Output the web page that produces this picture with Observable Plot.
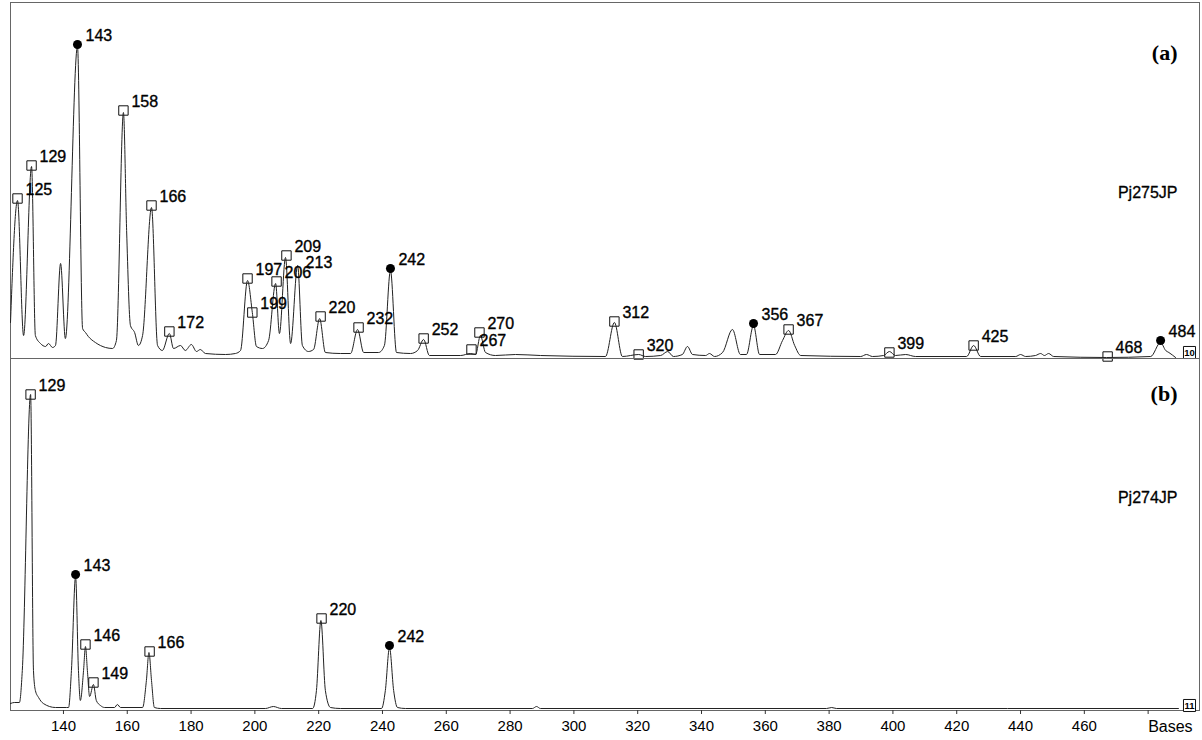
<!DOCTYPE html>
<html><head><meta charset="utf-8">
<script src="https://cdn.jsdelivr.net/npm/d3@7"></script>
<script src="https://cdn.jsdelivr.net/npm/@observablehq/plot@0.6"></script>
<style>
html,body{margin:0;padding:0;background:#fff;}
#chart svg{display:block;}
</style></head><body><div id="chart"></div>
<script>
// ---- base-size axis ----
const xRange = [123.4, 496.1];
const tickValues = [140,160,180,200,220,240,260,280,300,320,340,360,380,400,420,440,460];
const unitTick = [480];
const unitLabel = "Bases";

// ---- panel (a) Pj275JP trace: [bases, signal] ----
const traceA = [[123.4,36],[125.6,158],[127.5,23],[130.0,192],[131.2,23],[132.8,15],[134.4,12],[135.3,15],[136.6,11],[137.5,13],[139.1,95],[140.6,20],[144.4,312],[146.0,30],[146.9,26],[147.8,22],[150.0,16],[153.2,11],[155.4,10],[156.6,18],[158.8,246],[159.8,128],[161.0,33],[162.3,26],[163.5,13],[164.8,23],[167.6,151],[169.5,13],[171.0,8],[173.2,25],[174.5,10],[176.7,13],[178.2,8],[180.1,14],[181.7,7],[182.9,9],[184.5,5],[190.8,4],[193.9,5],[195.5,8],[197.7,78],[199.2,46],[200.5,12],[202.4,10],[204.3,18],[206.5,75],[207.7,25],[209.6,101],[211.2,15],[213.4,93],[214.9,13],[216.8,7],[218.4,9],[220.3,40],[222.1,6],[226.8,5],[230.0,5],[232.2,29],[234.1,6],[238.8,6],[240.6,13],[242.5,88],[244.4,6],[248.8,5],[251.0,8],[252.9,19],[254.7,3],[264.5,3],[267.6,5],[269.2,4],[270.7,23],[272.3,6],[275.4,3],[281.7,4],[289.5,3],[309.9,2],[312.7,36],[315.2,2],[320.3,4],[322.5,2],[327.2,3],[329.4,7],[331.2,2],[334.0,4],[335.6,12],[337.2,4],[341.3,3],[342.5,5],[344.1,2],[346.6,6],[349.7,29],[352.2,4],[354.1,4],[356.3,33],[358.2,4],[363.2,4],[365.4,18],[367.3,28],[369.2,13],[371.1,3],[389.9,2],[391.7,4],[393.6,2],[397.1,3],[398.9,7],[400.8,3],[404.0,4],[407.1,2],[423.1,2],[425.3,13],[427.5,2],[438.5,2],[440.0,4],[441.6,2],[444.7,3],[446.3,5],[447.5,3],[448.8,5],[450.4,2],[467.0,1],[480.8,2],[483.9,16],[485.5,8],[486.5,6],[488.6,1]];

// ---- panel (a) called peaks ----
const sizesA  = [125,129,143,158,166,172,197,199,206,209,213,220,232,242,252,267,270,312,320,356,367,399,425,468,484];
const posA    = [125.6,130.0,144.4,158.8,167.6,173.2,197.7,199.2,206.8,209.9,213.4,220.6,232.5,242.5,252.9,267.9,270.4,312.7,320.3,356.3,367.3,398.9,425.3,467.3,483.9];
const heightA = [160,193,314,248,153,27,80,46,77,103,87,42,31,90,20,9,26,37,4,35,29,6,13,2,18];
const markA   = ["sq","sq","dot","sq","sq","sq","sq","sq","sq","sq","none","sq","sq","dot","sq","sq","sq","sq","sq","dot","sq","sq","sq","sq","dot"];

// ---- panel (b) Pj274JP trace ----
const traceB = [[123.4,7],[124.6,8],[126.2,8],[127.1,40],[129.7,316],[130.6,40],[131.2,20],[132.2,13],[133.7,7],[137.5,3],[141.0,3],[141.6,3],[142.5,40],[143.8,134],[144.7,40],[145.3,10],[146.3,40],[146.9,64],[147.5,40],[148.2,14],[149.4,26],[150.3,10],[151.6,5],[152.9,3],[156.0,3],[156.9,6],[157.9,3],[164.8,3],[166.0,30],[166.8,58],[167.6,30],[168.5,3],[170.4,2],[203.3,2],[205.8,4],[208.3,2],[218.1,2],[219.3,20],[220.7,90],[222.1,20],[223.7,3],[226.8,2],[239.7,2],[240.9,20],[242.2,63],[243.5,20],[244.7,3],[247.2,2],[287.0,2],[288.3,4],[289.5,2],[379.2,2],[380.8,3],[382.3,2],[489.5,2]];

const sizesB  = [129,143,146,149,166,220,242];
const posB    = [129.7,143.8,146.9,149.4,167.0,220.9,242.2];
const heightB = [316,136,66,28,59,92,65];
const markB   = ["sq","dot","sq","sq","sq","sq","dot"];

const panelTags = ["(a)","(b)"];
const sampleNames = ["Pj275JP","Pj274JP"];
const channelIds = ["10","11"];

// ---- build tables ----
const toTrace = t => t.map(([b, s]) => ({b, s}));
const toPeaks = (sizes, pos, h, mk) => sizes.map((size, i) => ({size: String(size), b: pos[i], s: h[i], mark: mk[i]}));

const font = "'Liberation Sans', Arial, Helvetica, sans-serif";
const serif = "'Liberation Serif', 'Times New Roman', serif";

function panel({trace, peaks, tag, name, channel, height, marginBottom, yMax, tagDy, nameDy, chDy, withAxis}) {
  const marks = [
    Plot.frame({stroke: "#666", strokeWidth: 1}),
    Plot.dot(peaks.filter(d => d.mark === "sq"), {x: "b", y: "s", symbol: "square", r: 5.3, fill: "white", stroke: "#111", strokeWidth: 1}),
    Plot.line(trace, {x: "b", y: "s", stroke: "#222", strokeWidth: 1, curve: "monotone-x"}),
    Plot.dot(peaks.filter(d => d.mark === "dot"), {x: "b", y: "s", r: 4.5, fill: "#000", stroke: "none"}),
    Plot.text(peaks, {x: "b", y: "s", text: "size", dx: 8, dy: -9, textAnchor: "start", lineAnchor: "middle", fontSize: 16, fill: "#000", stroke: "#000", strokeWidth: 0.35}),
    Plot.text([tag], {text: d => d, frameAnchor: "top-right", textAnchor: "end", lineAnchor: "middle", dx: -22, dy: tagDy, fontFamily: serif, fontWeight: "bold", fontSize: 22, fill: "#000"}),
    Plot.text([name], {text: d => d, frameAnchor: "top-right", textAnchor: "end", lineAnchor: "middle", dx: -22, dy: nameDy, fontSize: 16, fill: "#000", stroke: "#000", strokeWidth: 0.3}),
    Plot.dot([channel], {frameAnchor: "bottom-right", dx: -10, dy: chDy, symbol: "square", r: 6.8, fill: "white", stroke: "#111", strokeWidth: 1}),
    Plot.text([channel], {text: d => d, frameAnchor: "bottom-right", textAnchor: "middle", lineAnchor: "middle", dx: -10, dy: chDy, fontSize: 9.5, fontWeight: "bold", fill: "#000"})
  ];
  if (withAxis) {
    marks.push(
      Plot.axisX({ticks: tickValues, tickSize: 4, tickPadding: 6, tickFormat: d => String(d), fontSize: 15, label: null, stroke: "#333"}),
      Plot.axisX({ticks: unitTick, tickSize: 4, tickPadding: 6, tickFormat: () => unitLabel, textAnchor: "start", fontSize: 16, label: null, stroke: "#333"})
    );
  }
  return Plot.plot({
    width: 1202, height, marginTop: withAxis ? 0 : 2, marginBottom, marginLeft: 10, marginRight: 3,
    x: {domain: xRange, axis: withAxis ? undefined : null, label: null},
    y: {domain: [0, yMax], axis: null},
    style: {fontFamily: font, fontSize: "15px", background: "white", color: "#000", overflow: "visible"},
    marks
  });
}

const chart = document.getElementById("chart");
chart.append(panel({trace: toTrace(traceA), peaks: toPeaks(sizesA, posA, heightA, markA), tag: panelTags[0], name: sampleNames[0], channel: channelIds[0], height: 358, marginBottom: 0, yMax: 356, tagDy: 50, nameDy: 190, chDy: -6, withAxis: false}));
chart.append(panel({trace: toTrace(traceB), peaks: toPeaks(sizesB, posB, heightB, markB), tag: panelTags[1], name: sampleNames[1], channel: channelIds[1], height: 382, marginBottom: 30, yMax: 352, tagDy: 35, nameDy: 139, chDy: -5, withAxis: true}));
</script></body></html>
